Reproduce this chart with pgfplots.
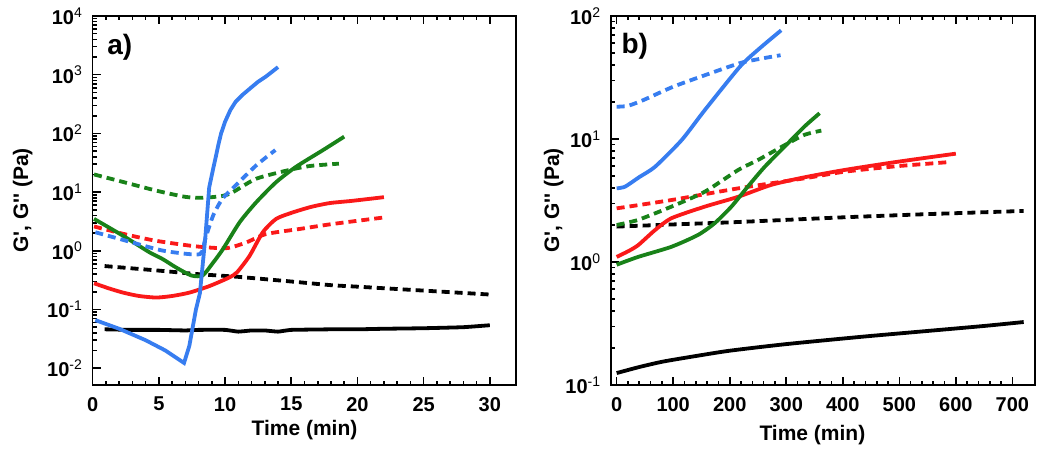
\documentclass[border=0pt]{standalone}
\usepackage{fontspec}
\setmainfont{Liberation Sans}[Ligatures=TeXOff]
\usepackage{pgfplots}
\pgfplotsset{compat=1.18}
\definecolor{cblue}{RGB}{55,125,240}
\definecolor{cgreen}{RGB}{25,130,25}
\definecolor{cred}{RGB}{250,25,25}
\pgfplotsset{
 sl/.style={line width=1.9pt, no markers, smooth, tension=0.4},
 dl/.style={line width=1.9pt, no markers, smooth, tension=0.4, dash pattern=on 4pt off 2.5pt},
}
\newcommand{\ex}[1]{10\textsuperscript{\mdseries #1}}
\begin{document}
\begin{tikzpicture}
\draw[white, line width=0pt] (0,0) rectangle (522.5pt,225pt);
% ---------------- panel a ----------------
\begin{axis}[ymode=log, scale only axis,
  at={(46.35pt,32.5pt)}, anchor=south west,
  width=211.8pt, height=184.5pt,
  xmin=0, xmax=32, ymin=0.00518, ymax=10000,
  axis line style={line width=0.8pt},
  tick style={black, line width=0.8pt},
  major tick length=4pt, minor tick length=2.2pt,
  ytick pos=left,
  minor x tick num=4,
  /pgf/number format/assume math mode=true,
  tick label style={font=\bfseries\fontsize{10}{12}\selectfont},
  yticklabel style={xshift=-1.4pt},
  xticklabel style={yshift=-2.5pt},
  label style={font=\bfseries\fontsize{10.5}{12}\selectfont},
  xtick={0,5,10,15,20,25,30},
  ytick={0.01,0.1,1,10,100,1000,10000},
  yticklabels={\ex{-2},\ex{-1},\ex{0},\ex{1},\ex{2},\ex{3},\ex{4}},
  xlabel={Time (min)}, ylabel={G', G'' (Pa)},
  xlabel style={at={(axis description cs:0.5,-0.122)}, anchor=center},
  ylabel style={at={(axis description cs:-0.165,0.5)}, anchor=center},
]
\addplot[sl, black, tension=0.2] coordinates {(0.9,0.046)(3,0.045)(5,0.045)(7,0.044)(8,0.045)(10,0.045)(11,0.042)(12,0.044)(13,0.044)(14,0.042)(15,0.045)(18,0.046)(20,0.046)(22,0.047)(25,0.048)(28,0.050)(30,0.054)};
\addplot[dl, black] coordinates {(0.9,0.55)(5,0.46)(8,0.40)(11,0.36)(15,0.30)(18,0.26)(20,0.245)(25,0.21)(30,0.18)};
\addplot[sl, cred] coordinates {(0.1,0.28)(1.2,0.23)(2.3,0.194)(3.5,0.17)(4.8,0.16)(6,0.17)(7.3,0.194)(8.8,0.25)(10.3,0.35)(10.9,0.43)(11.85,0.82)(12.85,2.07)(13.86,3.5)(15.1,4.5)(16.5,5.6)(17.9,6.5)(19.6,7.1)(22,8.2)};
\addplot[dl, cred] coordinates {(0.1,2.6)(2.5,1.9)(4.8,1.48)(7.8,1.19)(10.1,1.11)(11.6,1.39)(13.1,1.93)(15.6,2.35)(18.1,2.86)(22,3.7)};
\addplot[sl, cgreen] coordinates {(0.1,3.5)(2.3,1.8)(4.3,0.94)(5.3,0.72)(6.3,0.52)(7.45,0.38)(8.3,0.38)(9.1,0.63)(9.84,1.07)(11.1,3.06)(12.35,6.7)(13.86,14.8)(15.36,27)(17.4,52)(19,88)};
\addplot[dl, cgreen] coordinates {(0.1,20)(2,15.5)(4.8,10.6)(7,8.3)(8.3,8.0)(9.8,8.6)(10.6,10)(12.35,16.9)(14.9,24)(16.5,28)(18.6,30.5)};
\addplot[line width=1.9pt, no markers, cblue] coordinates {(0.2,0.066)(2,0.047)(4,0.030)(5.5,0.020)(6.9,0.0123)(7.3,0.024)(7.8,0.10)(8.1,0.19)(8.5,1.6)(8.8,12)(9.1,25)(9.3,40)(9.5,65)(9.7,100)(10,158)(10.4,250)(10.8,347)(11.3,450)(11.9,586)(12.5,760)(13.1,935)(14,1346)};
\addplot[dl, cblue] coordinates {(0.2,2.07)(2,1.6)(4.8,1.07)(6,0.95)(8.1,0.88)(8.5,1.59)(9.1,4)(9.8,7.7)(10.8,13)(12.35,28.5)(13.8,52)};
\node[font=\bfseries\fontsize{14}{16}\selectfont] at (axis description cs:0.064,0.915) {a)};
\end{axis}
% ---------------- panel b ----------------
\begin{axis}[ymode=log, scale only axis,
  at={(305.5pt,32.5pt)}, anchor=south west,
  width=212pt, height=184.5pt,
  xmin=-10, xmax=740, ymin=0.1, ymax=100,
  axis line style={line width=0.8pt},
  tick style={black, line width=0.8pt},
  major tick length=4pt, minor tick length=2.2pt,
  ytick pos=left,
  minor x tick num=4,
  /pgf/number format/assume math mode=true,
  tick label style={font=\bfseries\fontsize{10}{12}\selectfont},
  yticklabel style={xshift=-1.4pt},
  xticklabel style={yshift=-2.5pt},
  label style={font=\bfseries\fontsize{10.5}{12}\selectfont},
  xtick={0,100,200,300,400,500,600,700},
  ytick={0.1,1,10,100},
  yticklabels={\ex{-1},\ex{0},\ex{1},\ex{2}},
  xlabel={Time (min)}, ylabel={G', G'' (Pa)},
  xlabel style={at={(axis description cs:0.475,-0.1355)}, anchor=center},
  ylabel style={at={(axis description cs:-0.135,0.5)}, anchor=center},
]
\addplot[sl, black] coordinates {(0,0.125)(40,0.14)(82,0.155)(140,0.172)(200,0.19)(300,0.215)(435,0.247)(550,0.275)(650,0.302)(720,0.325)};
\addplot[dl, black] coordinates {(0,1.94)(100,2.02)(200,2.1)(300,2.2)(403,2.31)(550,2.45)(720,2.6)};
\addplot[sl, cred] coordinates {(0,1.10)(20,1.22)(38,1.37)(68,1.82)(97,2.27)(156,2.82)(215,3.39)(273,4.23)(332,4.88)(403,5.6)(494,6.5)(600,7.6)};
\addplot[dl, cred] coordinates {(0,2.73)(97,3.19)(215,3.97)(332,4.79)(403,5.42)(494,6.0)(590,6.5)};
\addplot[sl, cgreen] coordinates {(0,0.95)(38,1.10)(97,1.33)(144,1.66)(173,2.06)(203,2.82)(232,4.1)(262,5.95)(297,8.65)(332,12.6)(359,16.2)};
\addplot[dl, cgreen] coordinates {(0,2.0)(38,2.2)(97,2.82)(156,3.73)(215,5.6)(250,6.75)(297,8.9)(332,10.8)(362,11.7)};
\addplot[sl, cblue] coordinates {(0,3.97)(15,4.1)(40,4.9)(68,5.95)(115,9.8)(156,17.2)(218,38.7)(253,54.6)(291,76.5)};
\addplot[dl, cblue] coordinates {(0,18.3)(20,18.6)(47,20.7)(100,26.6)(164,34)(223,42)(290,48)};
\node[font=\bfseries\fontsize{14}{16}\selectfont] at (axis description cs:0.056,0.917) {b)};
\end{axis}
\end{tikzpicture}
\end{document}
